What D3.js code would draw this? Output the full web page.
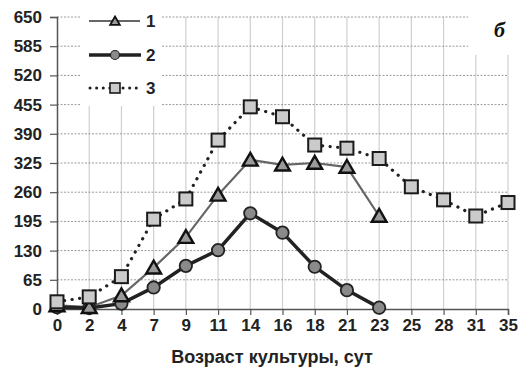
<!DOCTYPE html>
<html><head><meta charset="utf-8">
<script src="https://cdn.jsdelivr.net/npm/d3@7"></script>
<style>
html,body{margin:0;padding:0;background:#fff;}
svg{display:block;}
</style>
</head><body>
<svg id="c" width="528" height="371"></svg>
<script>
const days = ["0","2","4","7","9","11","14","16","18","21","23","25","28","31","35"];
const series1 = [8,4,30,92,160,254,332,321,325,316,207];
const series2 = [4,2,12,48,96,131,213,170,94,42,3];
const series3 = [16,27,72,200,245,376,450,428,365,358,335,272,243,207,237];
const yTicks = [0,65,130,195,260,325,390,455,520,585,650];
const seriesNames = ["1","2","3"];
const xTitle = "Возраст культуры, сут";
const panelLabel = "б";

const svg = d3.select("#c");
const x = d3.scalePoint().domain(days).range([57, 508]);
const y = d3.scaleLinear().domain([0, 650]).range([309, 17]);
const FONT = "'Liberation Sans', Arial, sans-serif";

// gridlines
const g = svg.append("g");
g.selectAll("line.v").data(days.slice(1)).join("line")
  .attr("x1", d => x(d)).attr("x2", d => x(d))
  .attr("y1", y(650)).attr("y2", y(0))
  .attr("stroke", "#cfcfcf").attr("stroke-width", 1.2);
g.selectAll("line.h").data(yTicks.slice(1)).join("line")
  .attr("x1", x(days[0])).attr("x2", x(days[days.length-1]))
  .attr("y1", d => y(d)).attr("y2", d => y(d))
  .attr("stroke", "#9a9a9a").attr("stroke-width", 1).attr("stroke-dasharray", "2,1.5");

// white boxes for legend and panel label
svg.append("rect").attr("x", 81).attr("y", 0).attr("width", 81).attr("height", 106).attr("fill", "#fff");
svg.append("rect").attr("x", 468).attr("y", 0).attr("width", 60).attr("height", 55).attr("fill", "#fff");

// axes
const yAxis = d3.axisLeft(y).tickValues(yTicks).tickSize(7).tickPadding(8);
const ya = svg.append("g").attr("transform", `translate(${x(days[0])},0)`).call(yAxis);
const xAxis = d3.axisBottom(x).tickSize(6).tickPadding(4);
const xa = svg.append("g").attr("transform", `translate(0,${y(0)})`).call(xAxis);
[ya, xa].forEach(a => {
  a.select(".domain").attr("stroke", "#555").attr("stroke-width", 1.5);
  a.selectAll(".tick line").attr("stroke", "#555").attr("stroke-width", 1.2);
  a.selectAll(".tick text").attr("fill", "#222").style("font-family", FONT)
    .style("font-size", "17px").style("font-weight", "bold");
});

// lines
const line = d3.line().x((d,i) => x(days[i])).y(d => y(d));
svg.append("path").attr("d", line(series3)).attr("fill", "none")
  .attr("stroke", "#222").attr("stroke-width", 3.2).attr("stroke-linecap", "round")
  .attr("stroke-dasharray", "0.1,7.5");
svg.append("path").attr("d", line(series1)).attr("fill", "none")
  .attr("stroke", "#666").attr("stroke-width", 2.2);
svg.append("path").attr("d", line(series2)).attr("fill", "none")
  .attr("stroke", "#222").attr("stroke-width", 3.5);

// markers
const tri = d3.symbol().type(d3.symbolTriangle);
svg.append("g").selectAll("circle").data(series2).join("circle")
  .attr("cx", (d,i) => x(days[i])).attr("cy", d => y(d)).attr("r", 6.2)
  .attr("fill", "#8a8a8a").attr("stroke", "#222").attr("stroke-width", 1.8);
svg.append("g").selectAll("path").data(series1).join("path")
  .attr("transform", (d,i) => `translate(${x(days[i])},${y(d)+1.5})`)
  .attr("d", tri.size(95)())
  .attr("fill", "#9a9a9a").attr("stroke", "#111").attr("stroke-width", 2.4).attr("stroke-linejoin", "miter");
svg.append("g").selectAll("rect").data(series3).join("rect")
  .attr("x", (d,i) => x(days[i]) - 6.5).attr("y", d => y(d) - 6.5)
  .attr("width", 13).attr("height", 13)
  .attr("fill", "#cbcbcb").attr("stroke", "#1a1a1a").attr("stroke-width", 2);

// legend
const leg = svg.append("g");
const rows = [21, 55, 88];
leg.append("line").attr("x1", 89).attr("x2", 140).attr("y1", rows[0]).attr("y2", rows[0])
  .attr("stroke", "#666").attr("stroke-width", 2.2);
leg.append("path").attr("transform", `translate(115,${rows[0]+1})`).attr("d", tri.size(40)())
  .attr("fill", "#9a9a9a").attr("stroke", "#111").attr("stroke-width", 1.8);
leg.append("line").attr("x1", 89).attr("x2", 141).attr("y1", rows[1]).attr("y2", rows[1])
  .attr("stroke", "#222").attr("stroke-width", 3.5);
leg.append("circle").attr("cx", 115).attr("cy", rows[1]).attr("r", 4.5)
  .attr("fill", "#8a8a8a").attr("stroke", "#222").attr("stroke-width", 1.2);
leg.append("line").attr("x1", 90).attr("x2", 142).attr("y1", rows[2]).attr("y2", rows[2])
  .attr("stroke", "#222").attr("stroke-width", 3).attr("stroke-linecap", "round")
  .attr("stroke-dasharray", "0.1,6.5");
leg.append("rect").attr("x", 110).attr("y", rows[2]-5).attr("width", 10).attr("height", 10)
  .attr("fill", "#cbcbcb").attr("stroke", "#1a1a1a").attr("stroke-width", 1.6);
leg.selectAll("text").data(seriesNames).join("text")
  .attr("x", 146).attr("y", (d,i) => rows[i]).attr("dy", "0.36em")
  .attr("fill", "#222").style("font-family", FONT).style("font-size", "17px").style("font-weight", "bold")
  .text(d => d);

// titles
svg.append("text").attr("x", 272).attr("y", 363).attr("text-anchor", "middle")
  .attr("fill", "#222").style("font-family", FONT).style("font-size", "18px").style("font-weight", "bold")
  .text(xTitle);
svg.append("text").attr("x", 494).attr("y", 37)
  .attr("fill", "#111").style("font-family", "'Liberation Serif', 'DejaVu Serif', serif")
  .style("font-size", "22px").style("font-weight", "bold").style("font-style", "italic")
  .text(panelLabel);
</script>
</body></html>
